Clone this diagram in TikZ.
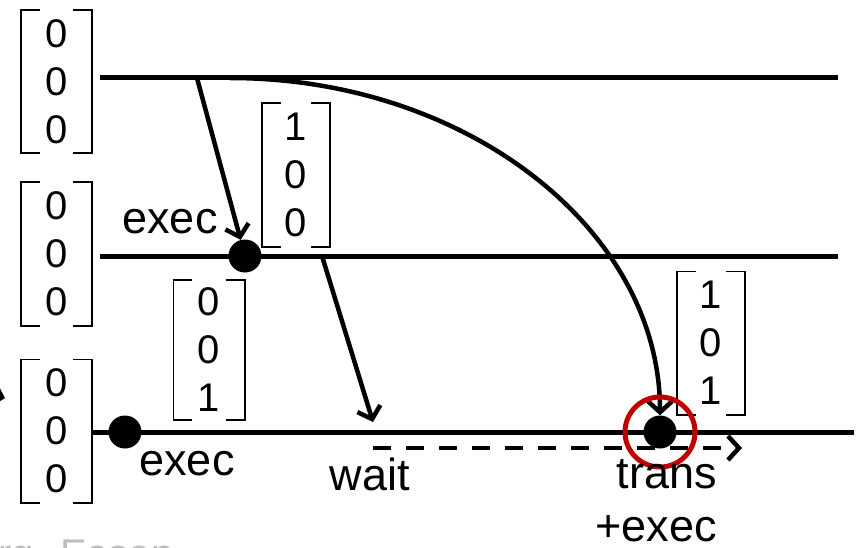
\documentclass[tikz,border=0pt]{standalone}
\usepackage{fontspec}
\setmainfont{Liberation Sans}
\usepackage{tikz}
\usetikzlibrary{arrows.meta, positioning}
\definecolor{ringRed}{RGB}{192, 0, 0}
\definecolor{noteGray}{RGB}{190, 190, 190}
\newcommand{\vecbrackets}[1]{%
    \draw[bracket] ([xshift=19pt]#1.north west) -- (#1.north west) -- (#1.south west) -- ([xshift=19pt]#1.south west);
    \draw[bracket] ([xshift=-19pt]#1.north east) -- (#1.north east) -- (#1.south east) -- ([xshift=-19pt]#1.south east);
}

\begin{document}
\begin{tikzpicture}[x=1pt, y=-1pt,
    timeline/.style={line width=5pt},
    msg/.style={line width=4.5pt, -{Straight Barb[length=11pt, width=24pt]}},
    vec/.style={font=\fontsize{40}{48}\selectfont, align=center, inner sep=0pt, minimum width=71pt, minimum height=143pt},
    bracket/.style={line width=1.6pt},
    event/.style={circle, fill=black, inner sep=0pt, minimum size=33pt},
    lbl/.style={font=\fontsize{45}{54}\selectfont, anchor=base}]
    \useasboundingbox (0,0) rectangle (856,548);

    % Timelines
    \coordinate (l1s) at (100,78);
    \coordinate (l1e) at (838,78);
    \coordinate (l2s) at (100,256);
    \coordinate (l2e) at (838,256);
    \coordinate (l3s) at (92,432);
    \coordinate (l3e) at (854,432);
    \draw[timeline] (l1s) -- (l1e);
    \draw[timeline] (l2s) -- (l2e);
    \draw[timeline] (l3s) -- (l3e);

    % Initial vectors
    \node[vec] (v1) at (56.5,81.5) {0\\0\\0};
    \node[vec] (v2) at (56.5,254) {0\\0\\0};
    \node[vec] (v3) at (56.5,431) {0\\0\\0};
    \vecbrackets{v1}
    \vecbrackets{v2}
    \vecbrackets{v3}

    % Events
    \node[event] (d1) at (245,256) {};
    \node[event] (d2) at (125,432) {};
    \node[event] (d3) at (660,432) {};

    % Updated vectors
    \node[vec, minimum width=68pt] (u1) at (296,175) {1\\0\\0};
    \node[vec, minimum height=140pt] (u2) at (209,350) {0\\0\\1};
    \node[vec, minimum width=68pt] (u3) at (711,343) {1\\0\\1};
    \vecbrackets{u1}
    \vecbrackets{u2}
    \vecbrackets{u3}

    % Messages
    \coordinate (a1s) at (197,78);
    \coordinate (a2s) at (230,78);
    \coordinate (a3s) at (322,256);
    \coordinate (a3e) at (373,422);
    \draw[msg] (a1s) -- (d1);
    \draw[msg] (a2s) .. controls (467,78) and (660,230) .. (d3);
    \draw[msg] (a3s) -- (a3e);

    % Waiting
    \coordinate (w1) at (373,448);
    \coordinate (w2) at (742,448);
    \draw[msg, dash pattern=on 18pt off 15pt] (w1) -- (w2);

    % Cut-off arrow at the edge
    \coordinate (p1) at (-40,386);
    \coordinate (p2) at (5,398);
    \draw[msg] (p1) -- (p2);

    % Highlight
    \node[circle, draw=ringRed, line width=5pt, minimum size=70pt] (ring) at (660,432) {};

    % Labels
    \node[lbl] (lexec1) at (170,233) {exec};
    \node[lbl] (lexec2) at (187,475) {exec};
    \node[lbl] (lwait) at (370,490) {wait};
    \node[lbl] (ltrans) at (667,488) {trans};
    \node[lbl] (lplus) at (656,541) {+exec};

    % Source note
    \node[font=\fontsize{40}{48}\selectfont, text=noteGray, anchor=base west] (src) at (-5,567) {rg. Eesen};
\end{tikzpicture}
\end{document}
